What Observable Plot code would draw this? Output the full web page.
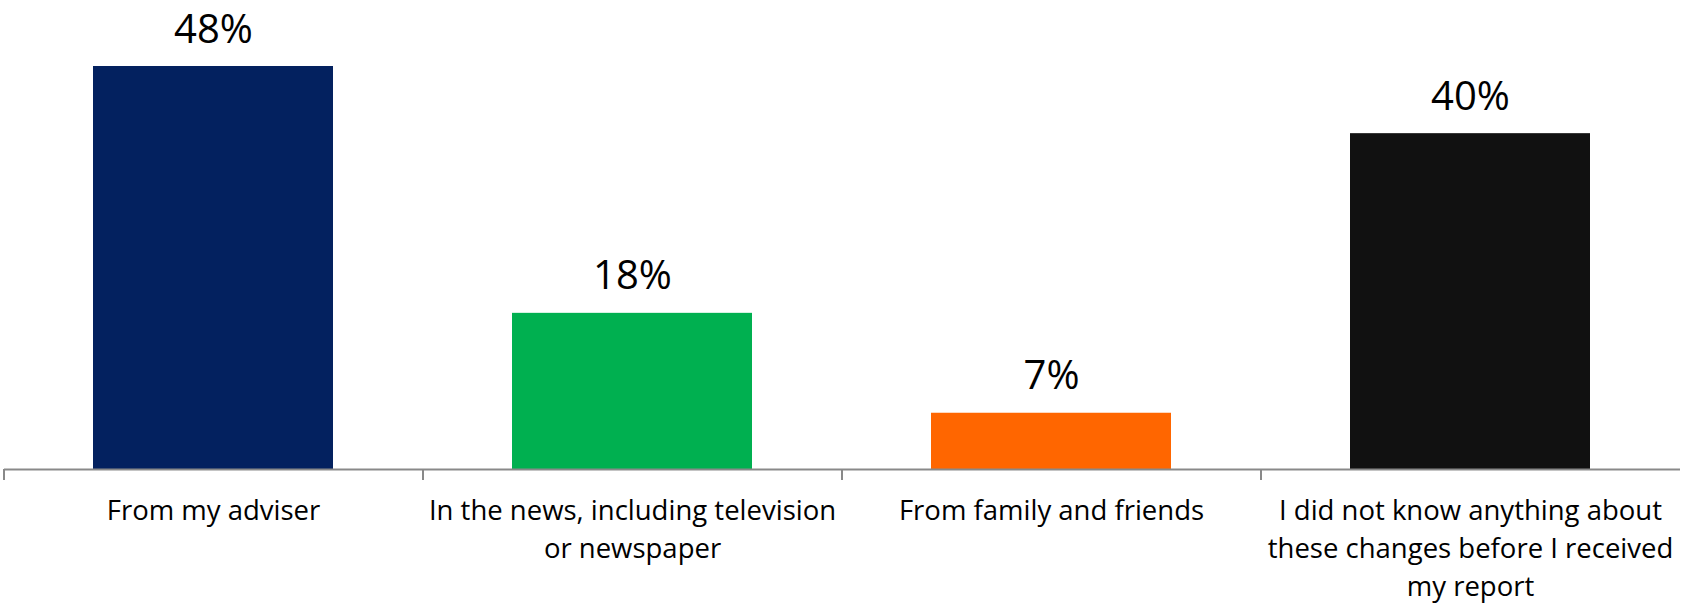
<!DOCTYPE html>
<html>
<head>
<meta charset="utf-8">
<script src="https://cdn.jsdelivr.net/npm/d3@7"></script>
<script src="https://cdn.jsdelivr.net/npm/@observablehq/plot@0.6"></script>
<style>
  html, body { margin: 0; padding: 0; background: #fff; }
  #chart { width: 1681px; height: 606px; }
</style>
</head>
<body>
<div id="chart"></div>
<script>
const categories = [
  "From my adviser",
  "In the news, including television or newspaper",
  "From family and friends",
  "I did not know anything about these changes before I received my report"
];
const tickLabels = [
  "From my adviser",
  "In the news, including television\nor newspaper",
  "From family and friends",
  "I did not know anything about\nthese changes before I received\nmy report"
];
const values = [48, 18.6, 6.7, 40];
const valueLabels = ["48%", "18%", "7%", "40%"];
const colors = ["#03215f", "#00b050", "#ff6600", "#111111"];

const data = categories.map((c, i) => ({category: c, value: values[i], text: valueLabels[i], label: tickLabels[i], color: colors[i]}));

const width = 1681, height = 606;
const marginLeft = 4, marginRight = 1;
const step = (width - marginLeft - marginRight) / categories.length;

const chart = Plot.plot({
  width, height,
  marginTop: 66, marginBottom: 137, marginLeft, marginRight,
  style: {fontFamily: "'Open Sans', sans-serif", background: "#fff", color: "#000"},
  x: {domain: categories, paddingInner: 0.427, paddingOuter: 0.2135, axis: null},
  y: {domain: [0, 48], axis: null},
  color: {type: "identity"},
  marks: [
    Plot.barY(data, {x: "category", y: "value", fill: "color"}),
    Plot.ruleY([0], {stroke: "#898989", strokeWidth: 2}),
    Plot.axisX({ticks: categories, tickSize: 11, dx: -step / 2, text: null, label: null, stroke: "#898989", strokeWidth: 2, strokeOpacity: 1}),
    Plot.text(data, {x: "category", y: "value", text: "text", dy: -24, lineAnchor: "bottom", fontSize: 40, fill: "#000"}),
    Plot.text(data, {x: "category", text: "label", frameAnchor: "bottom", dy: 24, lineAnchor: "top", fontSize: 27.5, lineHeight: 1.38, fill: "#000"})
  ]
});
document.getElementById("chart").appendChild(chart);
</script>
</body>
</html>
